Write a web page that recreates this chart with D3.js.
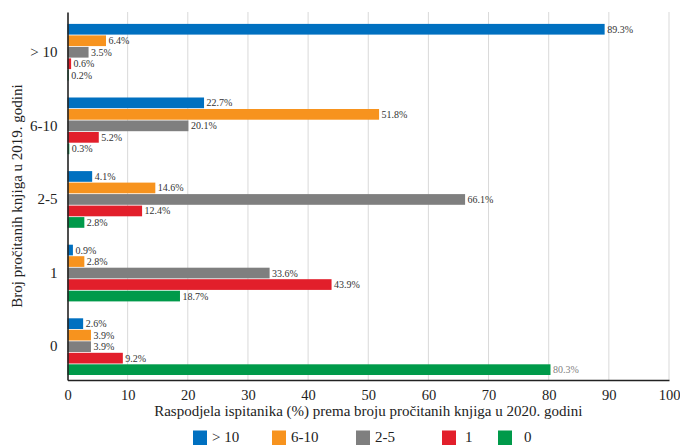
<!DOCTYPE html>
<html><head><meta charset="utf-8">
<script src="https://cdn.jsdelivr.net/npm/d3@7"></script>
<style>body{margin:0;background:#fff}svg{display:block}</style>
</head><body>
<svg id="c" width="680" height="445"></svg>
<script>
const categories = ["> 10", "6-10", "2-5", "1", "0"];
const series = ["> 10", "6-10", "2-5", "1", "0"];
const colors = ["#0070C0", "#F7931E", "#7F7F7F", "#E21F2B", "#009A4A"];
const valuesGt10 = [89.3, 22.7, 4.1, 0.9, 2.6];
const values6to10 = [6.4, 51.8, 14.6, 2.8, 3.9];
const values2to5 = [3.5, 20.1, 66.1, 33.6, 3.9];
const values1 = [0.6, 5.2, 12.4, 43.9, 9.2];
const values0 = [0.2, 0.3, 2.8, 18.7, 80.3];
const xTicks = [0,10,20,30,40,50,60,70,80,90,100];
const seriesValues = [valuesGt10, values6to10, values2to5, values1, values0];

const FONT = "Times New Roman";
const svg = d3.select("#c");
const L = 67.5, R = 669, T = 12, B = 380;

const x = d3.scaleLinear().domain([0,100]).range([L,R]);
const y = d3.scaleBand().domain(categories).range([T,B]).padding(0);
const inner = d3.scaleBand().domain(series).range([11.5, 69]).padding(0);

svg.append("g").selectAll("line").data(xTicks.slice(1)).join("line")
  .attr("x1", d=>x(d)).attr("x2", d=>x(d)).attr("y1", T).attr("y2", B)
  .attr("stroke", "#d9d9d9").attr("stroke-width", 1);

const data = [];
categories.forEach((c,ci)=>series.forEach((s,si)=>data.push({c, s, si, v: seriesValues[si][ci]})));
svg.append("g").selectAll("rect").data(data).join("rect")
  .attr("x", x(0)).attr("y", d=>y(d.c)+inner(d.s)+0.4)
  .attr("width", d=>x(d.v)-x(0)).attr("height", inner.bandwidth()-0.8)
  .attr("fill", d=>colors[d.si]);

svg.append("g").attr("font-family", FONT).selectAll("text").data(data).join("text")
  .attr("x", d=>x(d.v)+2.5).attr("y", d=>y(d.c)+inner(d.s)+inner.bandwidth()/2)
  .attr("dy", "0.35em")
  .attr("font-family", FONT).attr("font-size", 10)
  .attr("fill", d=> (d.si===4 && d.v>50) ? "#7f7f7f" : "#333")
  .text(d=>d.v.toFixed(1)+"%");

const xa = svg.append("g").attr("transform", `translate(0,${B})`)
  .call(d3.axisBottom(x).tickValues(xTicks).tickSize(0).tickPadding(10));
xa.attr("font-family", FONT);
xa.select(".domain").attr("stroke", "#222").attr("stroke-width", 1.6);
xa.selectAll("text").attr("font-family", FONT).attr("font-size", 14.5).attr("fill", "#222");

const ya = svg.append("g").attr("transform", `translate(${L},0)`)
  .call(d3.axisLeft(y).tickSize(0).tickPadding(10));
ya.attr("font-family", FONT);
ya.selectAll(".tick").attr("transform", d=>`translate(0,${y(d)+(11.5+69)/2})`);
ya.select(".domain").attr("stroke", "#222").attr("stroke-width", 1.6);
ya.selectAll("text").attr("font-family", FONT).attr("font-size", 15).attr("fill", "#222");

svg.append("text").attr("x", (L+R)/2).attr("y", 416).attr("text-anchor","middle")
  .attr("font-family", FONT).attr("font-size", 15).attr("fill","#222")
  .text("Raspodjela ispitanika (%) prema broju pročitanih knjiga u 2020. godini");
svg.append("text").attr("transform", `translate(22,${(T+B)/2}) rotate(-90)`).attr("text-anchor","middle")
  .attr("font-family", FONT).attr("font-size", 15).attr("fill","#222")
  .text("Broj pročitanih knjiga u 2019. godini");

const legX = [193, 272, 356, 442, 498];
const lg = svg.append("g").attr("font-family", FONT).selectAll("g").data(series).join("g")
  .attr("transform", (d,i)=>`translate(${legX[i]},430.5)`);
lg.append("rect").attr("width", 14).attr("height", 14.5).attr("fill", (d,i)=>colors[i]);
lg.append("text").attr("x", (d,i)=> i===3 ? 23 : (i===4 ? 26 : 19)).attr("y", 6.5).attr("dy","0.35em")
  .attr("font-family", FONT).attr("font-size", 15).attr("fill","#222").text(d=>d);
</script>
</body></html>
